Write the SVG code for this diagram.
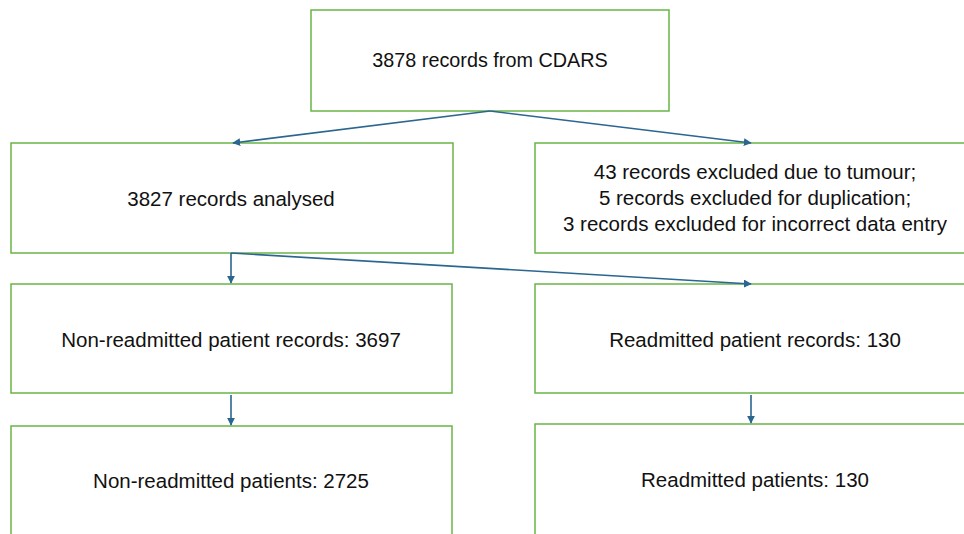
<svg xmlns="http://www.w3.org/2000/svg" width="964" height="534" viewBox="0 0 964 534">
<style>
.box{fill:#fff;stroke:#6ab546;stroke-width:1.5}
.t{font-family:"Liberation Sans",Arial,sans-serif;font-size:20.5px;fill:#111;text-anchor:middle;dominant-baseline:central}
.c{stroke:#2a6690;stroke-width:1.6;fill:none}
</style>
<defs>
<marker id="ah" viewBox="0 0 10 10" refX="9" refY="5" markerWidth="5" markerHeight="5" orient="auto-start-reverse" markerUnits="strokeWidth">
<path d="M0,0 L10,5 L0,10 z" fill="#2a6690"/>
</marker>
</defs>
<rect width="964" height="534" fill="#fff"/>
<g id="n1"><rect class="box" x="311" y="10" width="358" height="101"/><text class="t" x="490" y="60" style="font-size:19.8px">3878 records from CDARS</text></g>
<g id="n2"><rect class="box" x="11" y="143" width="442" height="110"/><text class="t" x="231" y="198">3827 records analysed</text></g>
<g id="n3"><rect class="box" x="535" y="143" width="440" height="110"/><text class="t" x="755" y="171">43 records excluded due to tumour;</text><text class="t" x="755" y="197">5 records excluded for duplication;</text><text class="t" x="755" y="223">3 records excluded for incorrect data entry</text></g>
<g id="n4"><rect class="box" x="11" y="284" width="441" height="109"/><text class="t" x="231" y="339">Non-readmitted patient records: 3697</text></g>
<g id="n5"><rect class="box" x="535" y="284" width="440" height="109"/><text class="t" x="755" y="339">Readmitted patient records: 130</text></g>
<g id="n6"><rect class="box" x="11" y="426" width="441" height="120"/><text class="t" x="231" y="480">Non-readmitted patients: 2725</text></g>
<g id="n7"><rect class="box" x="535" y="424" width="440" height="122"/><text class="t" x="755" y="479">Readmitted patients: 130</text></g>
<g id="connectors">
<path class="c" d="M490,111 L233,143" marker-end="url(#ah)"/>
<path class="c" d="M490,111 L751,143" marker-end="url(#ah)"/>
<path class="c" d="M231,253 L231,283" marker-end="url(#ah)"/>
<path class="c" d="M231,253 L751,284" marker-end="url(#ah)"/>
<path class="c" d="M231,395 L231,425" marker-end="url(#ah)"/>
<path class="c" d="M751,395 L751,423" marker-end="url(#ah)"/>
</g>
</svg>
